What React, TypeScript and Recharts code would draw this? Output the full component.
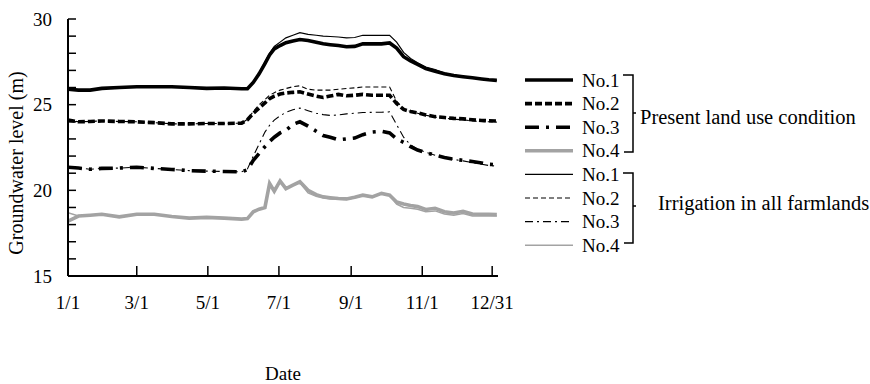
import React from 'react';
import { LineChart, Line, XAxis, YAxis, Legend } from 'recharts';

// Day of year for each sample
const days = [1, 10, 20, 30, 45, 60, 75, 90, 105, 120, 135, 150, 155, 160, 165, 170, 174, 178, 183, 188, 194, 200, 207, 214, 220, 226, 233, 240, 247, 254, 262, 270, 277, 283, 289, 295, 301, 308, 316, 324, 332, 340, 348, 356, 362, 369];

// Present land use condition
const presentNo1 = [25.9, 25.85, 25.85, 25.95, 26.0, 26.05, 26.05, 26.05, 26.0, 25.95, 25.97, 25.93, 25.93, 26.3, 26.8, 27.4, 27.9, 28.25, 28.45, 28.62, 28.72, 28.8, 28.75, 28.64, 28.55, 28.5, 28.45, 28.38, 28.4, 28.55, 28.55, 28.55, 28.6, 28.3, 27.8, 27.55, 27.35, 27.1, 26.95, 26.8, 26.7, 26.63, 26.57, 26.5, 26.45, 26.42];
const presentNo2 = [24.1, 24.0, 24.02, 24.05, 24.02, 24.0, 23.95, 23.88, 23.88, 23.9, 23.9, 23.92, 24.12, 24.5, 24.8, 25.1, 25.35, 25.5, 25.62, 25.68, 25.72, 25.75, 25.62, 25.5, 25.42, 25.5, 25.6, 25.52, 25.55, 25.6, 25.55, 25.55, 25.55, 25.07, 24.72, 24.6, 24.52, 24.4, 24.3, 24.25, 24.2, 24.17, 24.12, 24.08, 24.06, 24.05];
const presentNo3 = [21.35, 21.3, 21.23, 21.28, 21.3, 21.35, 21.28, 21.22, 21.15, 21.12, 21.1, 21.08, 21.2, 21.75, 22.15, 22.55, 22.85, 23.1, 23.35, 23.5, 23.85, 24.0, 23.75, 23.45, 23.2, 23.1, 22.95, 23.0, 23.05, 23.25, 23.4, 23.45, 23.35, 23.0, 22.8, 22.55, 22.35, 22.2, 22.05, 21.92, 21.82, 21.75, 21.68, 21.6, 21.52, 21.5];
const presentNo4 = [18.2, 18.5, 18.55, 18.6, 18.45, 18.6, 18.6, 18.47, 18.38, 18.42, 18.38, 18.32, 18.35, 18.75, 18.9, 19.0, 20.4, 19.95, 20.55, 20.1, 20.3, 20.5, 20.0, 19.75, 19.62, 19.57, 19.52, 19.5, 19.6, 19.72, 19.62, 19.82, 19.72, 19.32, 19.2, 19.12, 19.05, 18.88, 18.95, 18.75, 18.68, 18.78, 18.62, 18.6, 18.6, 18.58];

// Irrigation in all farmlands
const irrigNo1 = [25.9, 25.85, 25.85, 25.95, 26.0, 26.05, 26.05, 26.05, 26.0, 25.95, 25.97, 25.93, 25.93, 26.32, 26.85, 27.5, 28.0, 28.4, 28.65, 28.9, 29.05, 29.2, 29.1, 29.05, 29.0, 28.98, 28.95, 28.9, 28.92, 29.05, 29.05, 29.05, 29.05, 28.65, 28.05, 27.7, 27.45, 27.2, 27.05, 26.85, 26.73, 26.65, 26.58, 26.5, 26.45, 26.42];
const irrigNo2 = [24.1, 24.0, 24.02, 24.05, 24.02, 24.0, 23.95, 23.88, 23.88, 23.9, 23.9, 23.92, 24.15, 24.6, 25.0, 25.3, 25.55, 25.7, 25.85, 25.94, 26.05, 26.1, 25.9, 25.85, 25.85, 25.85, 25.9, 25.94, 25.98, 26.03, 26.03, 26.03, 26.03, 25.2, 24.75, 24.6, 24.5, 24.38, 24.28, 24.22, 24.15, 24.12, 24.05, 24.02, 24.0, 23.98];
const irrigNo3 = [21.35, 21.3, 21.23, 21.28, 21.3, 21.35, 21.28, 21.22, 21.15, 21.12, 21.1, 21.08, 21.25, 22.0, 22.7, 23.4, 23.8, 24.1, 24.35, 24.55, 24.7, 24.8, 24.65, 24.5, 24.42, 24.37, 24.4, 24.46, 24.5, 24.54, 24.55, 24.56, 24.58, 23.84, 23.1, 22.65, 22.4, 22.22, 22.05, 21.9, 21.8, 21.72, 21.62, 21.52, 21.45, 21.42];
const irrigNo4 = [18.7, 18.5, 18.55, 18.6, 18.45, 18.6, 18.6, 18.47, 18.38, 18.42, 18.38, 18.32, 18.35, 18.75, 18.9, 19.0, 20.4, 19.95, 20.55, 20.1, 20.3, 20.45, 19.85, 19.65, 19.55, 19.5, 19.48, 19.47, 19.57, 19.7, 19.6, 19.8, 19.7, 19.2, 19.0, 18.95, 18.9, 18.75, 18.8, 18.62, 18.55, 18.65, 18.5, 18.5, 18.5, 18.5];

const xTicks = [1, 60, 121, 182, 244, 305, 365];
const xTickLabels = ['1/1', '3/1', '5/1', '7/1', '9/1', '11/1', '12/31'];
const yTicks = [15, 16, 17, 18, 19, 20, 21, 22, 23, 24, 25, 26, 27, 28, 29, 30];
const yLabelEvery = 5;

const stationNames = ['No.1', 'No.2', 'No.3', 'No.4'];
const groupNames = ['Present land use condition', 'Irrigation in all farmlands'];

const data = days.map((d, i) => ({
  day: d,
  p1: presentNo1[i], p2: presentNo2[i], p3: presentNo3[i], p4: presentNo4[i],
  i1: irrigNo1[i], i2: irrigNo2[i], i3: irrigNo3[i], i4: irrigNo4[i],
}));

const GRAY = '#a3a3a3';
const FONT = '"Liberation Serif", "Times New Roman", serif';
const FS = 19;

const series = [
  { key: 'p1', name: stationNames[0], stroke: '#000', width: 3.6, dash: undefined },
  { key: 'p2', name: stationNames[1], stroke: '#000', width: 3.6, dash: '7 3' },
  { key: 'p3', name: stationNames[2], stroke: '#000', width: 3.6, dash: '14 7 3 7' },
  { key: 'p4', name: stationNames[3], stroke: GRAY, width: 3.6, dash: undefined },
  { key: 'i1', name: stationNames[0], stroke: '#000', width: 1.2, dash: undefined },
  { key: 'i2', name: stationNames[1], stroke: '#000', width: 1.1, dash: '5 3' },
  { key: 'i3', name: stationNames[2], stroke: '#000', width: 1.1, dash: '8 4 2 4' },
  { key: 'i4', name: stationNames[3], stroke: GRAY, width: 1.5, dash: undefined },
];

const YTick = (props: any) => {
  const { x, y, payload } = props;
  return (
    <g>
      <line x1={x + 16} x2={x + 24} y1={y} y2={y} stroke="#000" strokeWidth={1.5} />
      {payload.value % yLabelEvery === 0 && (
        <text x={x} y={y} dy="0.35em" textAnchor="end" fontFamily={FONT} fontSize={FS} fill="#000">
          {payload.value}
        </text>
      )}
    </g>
  );
};

const XTick = (props: any) => {
  const { x, y, payload } = props;
  const idx = xTicks.indexOf(payload.value);
  return (
    <g>
      <line x1={x} x2={x} y1={y - 20} y2={y - 30} stroke="#000" strokeWidth={1.5} />
      <text x={x} y={y} dy="0.71em" textAnchor="middle" fontFamily={FONT} fontSize={FS} fill="#000">
        {idx >= 0 ? xTickLabels[idx] : payload.value}
      </text>
    </g>
  );
};

const renderLegend = () => {
  const rowY = (i: number) => 20 + i * 23.6;
  return (
    <svg width={370} height={200} style={{ display: 'block' }}>
      {series.map((s, i) => (
        <g key={s.key + i}>
          <line x1={25} x2={73} y1={rowY(i)} y2={rowY(i)} stroke={s.stroke} strokeWidth={s.width} strokeDasharray={s.dash} />
          <text x={82} y={rowY(i)} dy="0.35em" fontFamily={FONT} fontSize={FS} fill="#000">{s.name}</text>
        </g>
      ))}
      <path d="M123 15 H133 V92 H124 M133 53 H136" fill="none" stroke="#000" strokeWidth={1.5} />
      <text x={140} y={57} dy="0.35em" fontFamily={FONT} fontSize={20.5} fill="#000">{groupNames[0]}</text>
      <path d="M123 113 H133 V183 H124 M133 146 H136" fill="none" stroke="#000" strokeWidth={1.5} />
      <text x={158} y={143} dy="0.35em" fontFamily={FONT} fontSize={20.5} fill="#000">{groupNames[1]}</text>
    </svg>
  );
};

const YLabel = () => (
  <text x={16} y={163} transform="rotate(-90, 16, 163)" textAnchor="middle" dy="0.35em" fontFamily={FONT} fontSize={20} fill="#000">
    Groundwater level (m)
  </text>
);

const XLabel = () => (
  <text x={283} y={380} textAnchor="middle" fontFamily={FONT} fontSize={FS} fill="#000">
    Date
  </text>
);

export default function App() {
  return (
    <div style={{ position: 'absolute', left: 0, top: 0, width: 870, height: 384, background: '#fff' }}>
      <LineChart width={870} height={384} data={data} margin={{ top: 19, right: 372, bottom: 78, left: 28 }}>
        <XAxis
          dataKey="day"
          type="number"
          domain={[1, 370]}
          ticks={xTicks}
          tick={<XTick />}
          tickSize={0}
          tickMargin={20}
          tickLine={false}
          axisLine={{ stroke: '#000', strokeWidth: 2 }}
          label={{ value: 'Date', content: () => <XLabel /> }}
          allowDataOverflow
        />
        <YAxis
          type="number"
          domain={[15, 30]}
          ticks={yTicks}
          interval={0}
          width={40}
          tick={<YTick />}
          tickSize={0}
          tickMargin={16}
          tickLine={false}
          axisLine={{ stroke: '#000', strokeWidth: 2 }}
          label={{ value: 'Groundwater level (m)', content: () => <YLabel /> }}
        />
        <Legend
          layout="vertical"
          align="center"
          verticalAlign="middle"
          content={renderLegend}
          wrapperStyle={{ left: 500, top: 60, width: 370, height: 200 }}
        />
        {series.map((s) => (
          <Line
            key={s.key}
            dataKey={s.key}
            name={s.name}
            stroke={s.stroke}
            strokeWidth={s.width}
            strokeDasharray={s.dash}
            dot={false}
            activeDot={false}
            type="linear"
            isAnimationActive={false}
          />
        ))}
      </LineChart>
    </div>
  );
}
